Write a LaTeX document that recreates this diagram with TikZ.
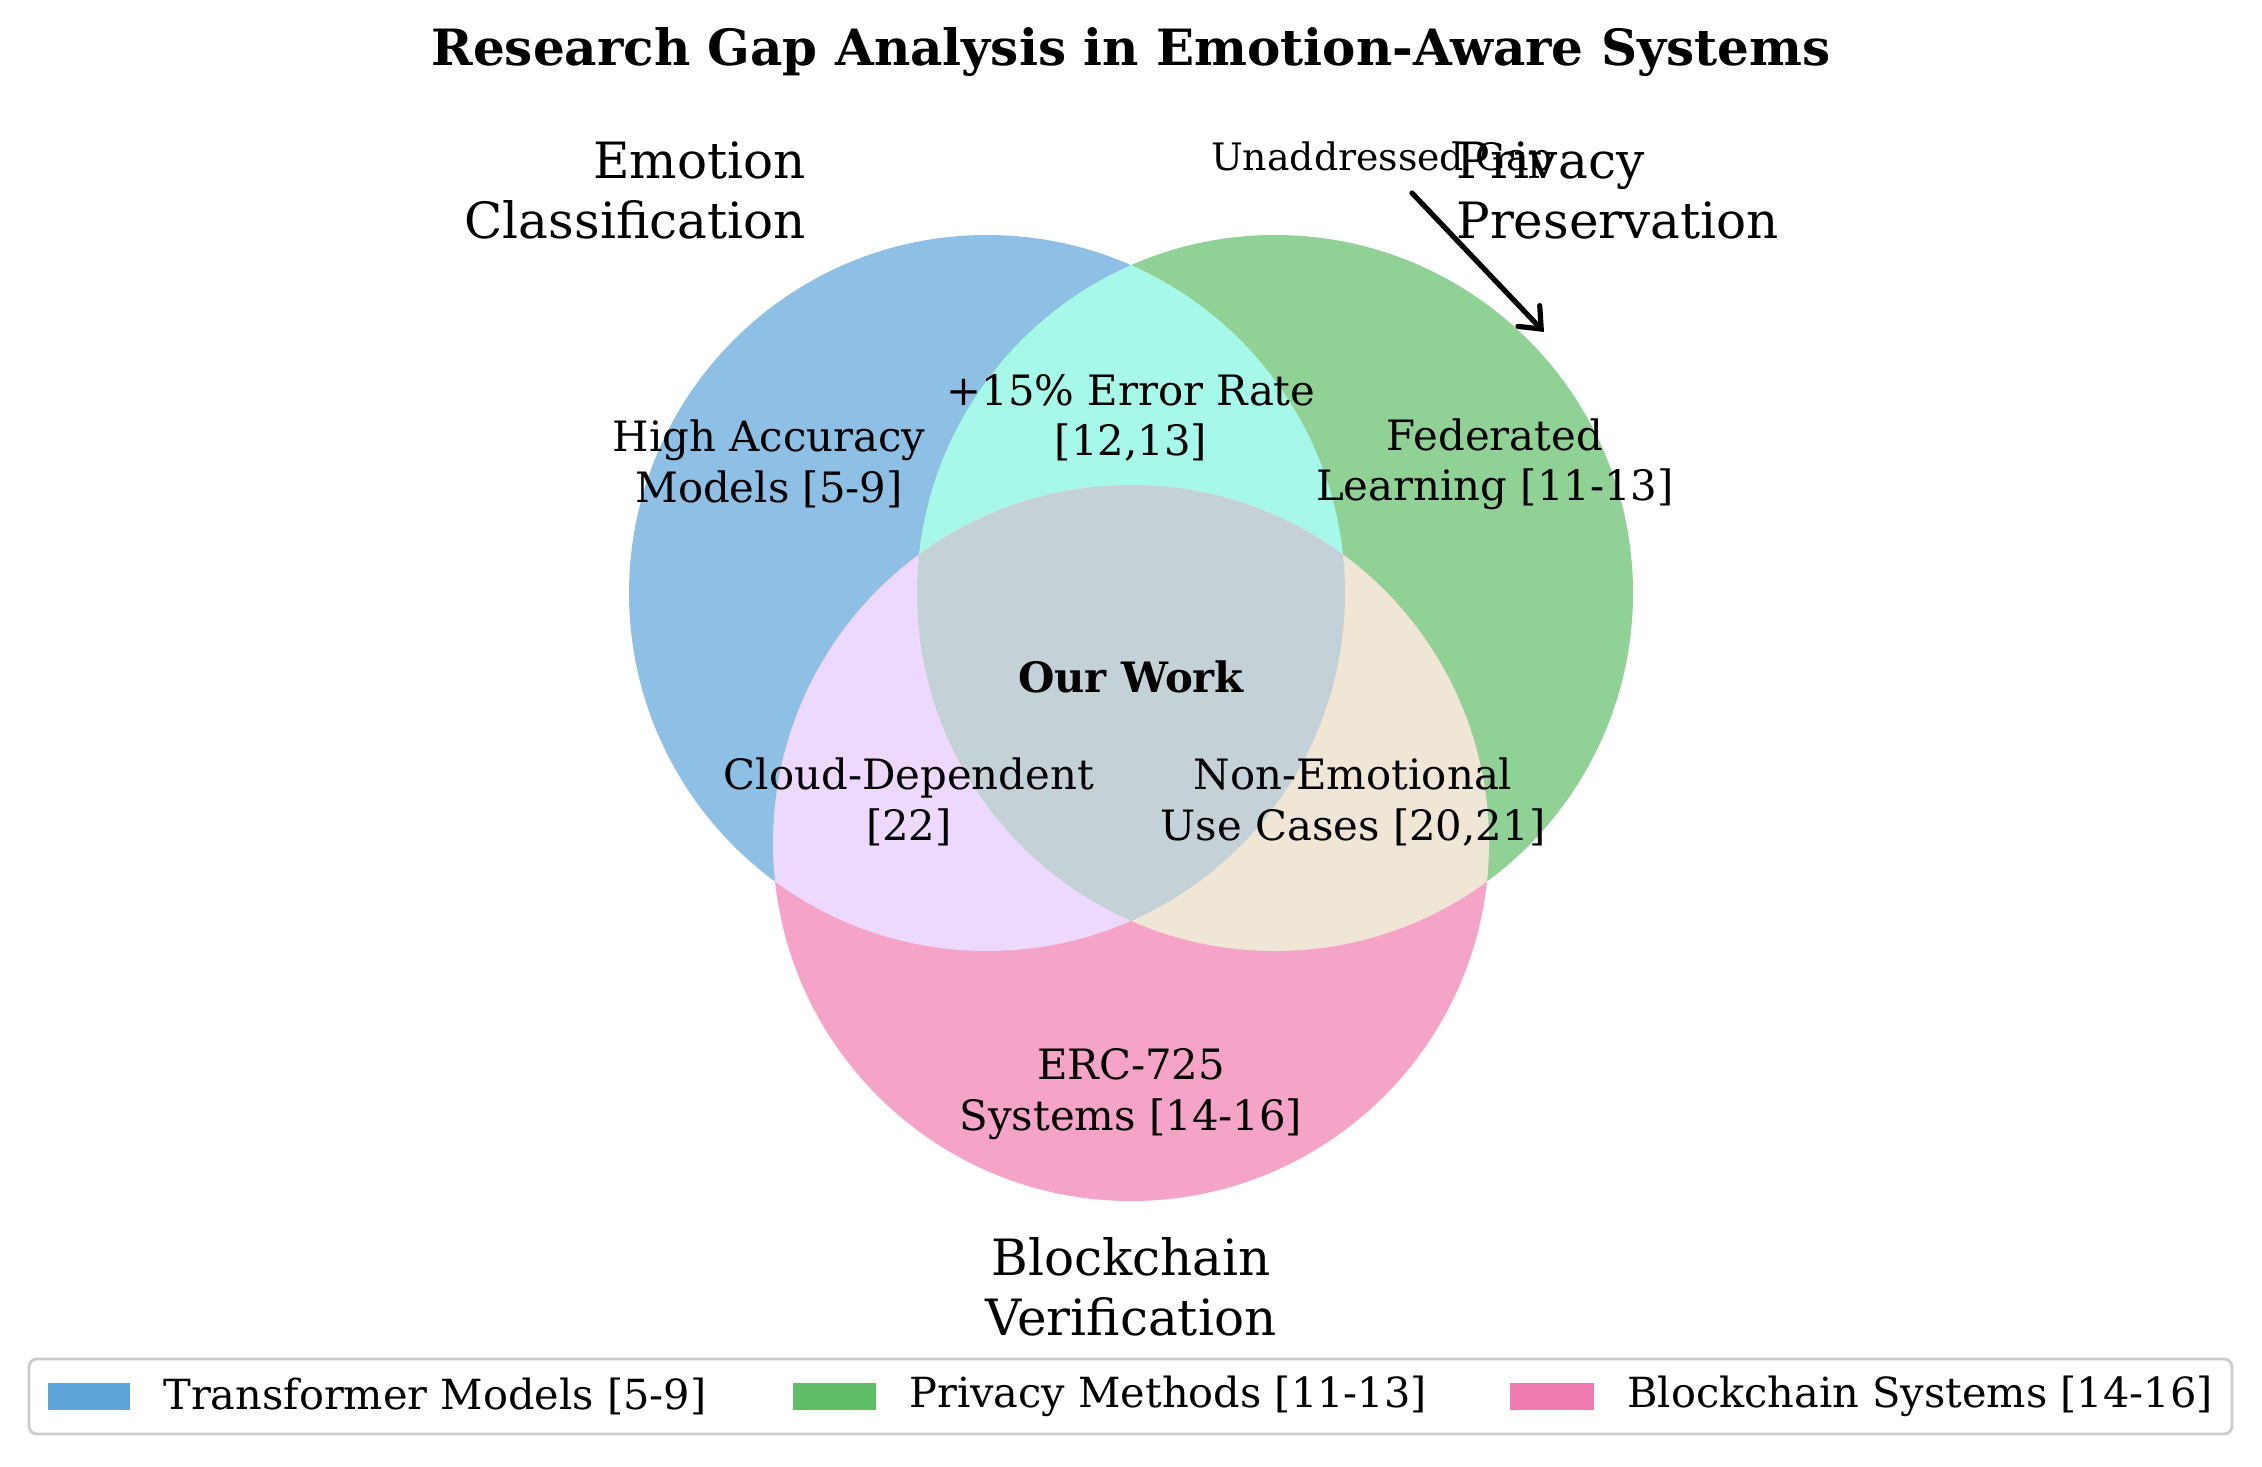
\documentclass[tikz,border=0pt]{standalone}
\usepackage{fontspec}
\setmainfont{DejaVu Serif}
\usetikzlibrary{arrows.meta}
\definecolor{cA}{HTML}{8EC0E5}
\definecolor{cB}{HTML}{90D195}
\definecolor{cC}{HTML}{F5A4C8}
\definecolor{cAB}{HTML}{A6F8E8}
\definecolor{cAC}{HTML}{EDD9FE}
\definecolor{cBC}{HTML}{F0E6D6}
\definecolor{cABC}{HTML}{C4D2D7}
\definecolor{lA}{HTML}{5DA5DA}
\definecolor{lB}{HTML}{60BD68}
\definecolor{lC}{HTML}{F17CB0}
\definecolor{legbd}{HTML}{CCCCCC}
\tikzset{
  setlab/.style={inner sep=0pt, font=\fontsize{25}{30}\selectfont},
  reglab/.style={inner sep=0pt, align=center, font=\fontsize{20.9}{25.2}\selectfont},
  leglab/.style={inner sep=0pt, anchor=west, font=\fontsize{20.75}{25}\selectfont},
}
\begin{document}
\begin{tikzpicture}[x=0.5pt,y=-0.5pt]
\useasboundingbox (0,0) rectangle (2262,1466);
\fill[white] (0,0) rectangle (2262,1466);
\def\R{358}
\coordinate (A) at (987,593);
\coordinate (B) at (1275,593);
\coordinate (C) at (1131,843);
% base circles
\fill[cA] (A) circle[radius=\R];
\fill[cB] (B) circle[radius=\R];
\fill[cC] (C) circle[radius=\R];
\begin{scope}
  \clip (A) circle[radius=\R];
  \fill[cAB] (B) circle[radius=\R];
  \fill[cAC] (C) circle[radius=\R];
\end{scope}
\begin{scope}
  \clip (B) circle[radius=\R];
  \fill[cBC] (C) circle[radius=\R];
\end{scope}
\begin{scope}
  \clip (A) circle[radius=\R];
  \clip (B) circle[radius=\R];
  \fill[cABC] (C) circle[radius=\R];
\end{scope}
% title
\node[inner sep=0pt, font=\fontsize{25}{30}\selectfont\bfseries] (title) at (1131,52) {Research Gap Analysis in Emotion-Aware Systems};
% set labels
\node[setlab, anchor=east, align=right] (labA) at (806,190) {Emotion\\Classification};
\node[setlab, anchor=west, align=left] (labB) at (1456,190) {Privacy\\Preservation};
\node[setlab, align=center] (labC) at (1131,1287) {Blockchain\\Verification};
% region labels
\node[reglab] (rA) at (769,464) {High Accuracy\\Models [5-9]};
\node[reglab] (rAB) at (1131,418) {+15\% Error Rate\\{}[12,13]};
\node[reglab] (rB) at (1495,464) {Federated\\Learning [11-13]};
\node[reglab, font=\fontsize{20.9}{25.2}\selectfont\bfseries] (rABC) at (1131,677) {Our Work};
\node[reglab] (rAC) at (909,802) {Cloud-Dependent\\{}[22]};
\node[reglab] (rBC) at (1353,802) {Non-Emotional\\Use Cases [20,21]};
\node[reglab] (rC) at (1131,1094) {ERC-725\\Systems [14-16]};
% annotation
\node[inner sep=0pt, font=\fontsize{18.9}{22.7}\selectfont] (gap) at (1382,160) {Unaddressed Gap};
\coordinate (gapS) at (1412,193);
\coordinate (gapE) at (1544,332);
\draw[line width=2.6pt, line cap=round, -{Straight Barb[length=9pt,width=15pt,line cap=round]}] (gapS) -- (gapE);
% legend
\draw[legbd, line width=1.4pt, rounded corners=4pt, fill=white] (29,1359) rectangle (2232,1434);
\fill[lA] (48,1383) rectangle (130,1410);
\fill[lB] (793,1383) rectangle (876,1410);
\fill[lC] (1510,1383) rectangle (1594,1410);
\node[leglab] (lgA) at (163,1396) {Transformer Models [5-9]};
\node[leglab] (lgB) at (909,1396) {Privacy Methods [11-13]};
\node[leglab] (lgC) at (1627,1396) {Blockchain Systems [14-16]};
\end{tikzpicture}
\end{document}
